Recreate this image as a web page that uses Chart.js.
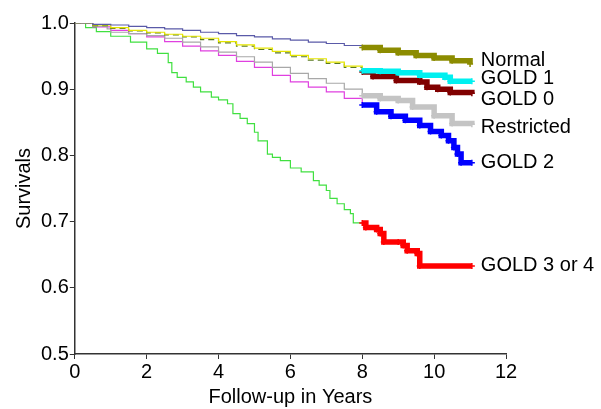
<!DOCTYPE html>
<html>
<head>
<meta charset="utf-8">
<script src="https://cdn.jsdelivr.net/npm/chart.js@4.4.1/dist/chart.umd.min.js"></script>
<style>
  html, body { margin: 0; padding: 0; background: #fff; }
  #wrap { width: 601px; height: 409px; }
</style>
</head>
<body>
<div id="wrap"><canvas id="km"></canvas></div>
<script>
// Kaplan-Meier curves (years, survival)
const normalT = [0, 0.5, 1, 1.5, 2, 2.5, 3, 3.5, 4, 4.5, 5, 5.5, 6, 6.5, 7, 7.5, 8, 8.5, 9, 9.5, 10, 10.5, 11];
const normalS = [1.0, 0.998, 0.997, 0.995, 0.993, 0.991, 0.989, 0.986, 0.984, 0.981, 0.979, 0.976, 0.974, 0.971, 0.969, 0.966, 0.963, 0.959, 0.955, 0.951, 0.947, 0.943, 0.938];

const gold1T = [0, 0.5, 1, 1.5, 2, 2.5, 3, 3.5, 4, 4.5, 5, 5.5, 6, 6.5, 7, 7.5, 8, 8.5, 9, 9.6, 10.3, 10.45, 11.05];
const gold1S = [1.0, 0.997, 0.993, 0.989, 0.986, 0.983, 0.980, 0.977, 0.972, 0.967, 0.962, 0.957, 0.951, 0.946, 0.941, 0.935, 0.928, 0.927, 0.925, 0.921, 0.918, 0.912, 0.912];

const gold0T = [0, 0.5, 1, 1.5, 2, 2.5, 3, 3.5, 4, 4.5, 5, 5.5, 6, 6.5, 7, 7.5, 8, 8.3, 8.95, 9.6, 9.8, 10.1, 10.45, 11.05];
const gold0S = [1.0, 0.996, 0.992, 0.988, 0.985, 0.982, 0.979, 0.975, 0.970, 0.965, 0.960, 0.955, 0.949, 0.944, 0.939, 0.933, 0.926, 0.919, 0.913, 0.911, 0.903, 0.900, 0.895, 0.894];

const restrT = [0, 0.5, 0.9, 1, 1.5, 2, 2.5, 3, 3.5, 4, 4.5, 5, 5.5, 6, 6.5, 7, 7.5, 8, 8.5, 9, 9.4, 10, 10.5, 11.05];
const restrS = [1.0, 0.995, 0.991, 0.986, 0.984, 0.981, 0.977, 0.971, 0.964, 0.956, 0.949, 0.941, 0.933, 0.924, 0.916, 0.909, 0.900, 0.890, 0.886, 0.883, 0.873, 0.860, 0.848, 0.847];

const gold2T = [0, 0.5, 1, 1.5, 2, 2.5, 3, 3.5, 4, 4.5, 5, 5.5, 6, 6.5, 7, 7.5, 8, 8.4, 8.8, 9.2, 9.6, 9.9, 10.2, 10.4, 10.55, 10.65, 10.75, 11.05];
const gold2S = [1.0, 0.994, 0.989, 0.984, 0.979, 0.972, 0.965, 0.958, 0.951, 0.942, 0.933, 0.921, 0.911, 0.903, 0.896, 0.886, 0.876, 0.866, 0.859, 0.853, 0.845, 0.836, 0.830, 0.822, 0.812, 0.802, 0.789, 0.789];

const gold34T = [0, 0.3, 0.6, 1, 1.55, 2.0, 2.3, 2.6, 2.7, 2.85, 3.1, 3.3, 3.5, 3.8, 4.0, 4.25, 4.4, 4.6, 4.8, 5.0, 5.1, 5.36, 5.5, 5.72, 6.0, 6.3, 6.64, 6.8, 7.0, 7.1, 7.3, 7.5, 7.67, 7.75, 8.0, 8.1, 8.4, 8.5, 8.6, 9.0, 9.14, 9.25, 9.53, 9.6, 11.05];
const gold34S = [1.0, 0.993, 0.987, 0.980, 0.971, 0.961, 0.954, 0.940, 0.925, 0.918, 0.911, 0.903, 0.896, 0.888, 0.884, 0.878, 0.863, 0.856, 0.848, 0.835, 0.822, 0.802, 0.797, 0.792, 0.781, 0.775, 0.762, 0.755, 0.747, 0.735, 0.727, 0.718, 0.712, 0.698, 0.698, 0.691, 0.688, 0.682, 0.669, 0.669, 0.664, 0.656, 0.652, 0.633, 0.633];

const groupNames = ['Normal', 'GOLD 1', 'GOLD 0', 'Restricted', 'GOLD 2', 'GOLD 3 or 4'];
const labelY = [0.944, 0.916, 0.885, 0.842, 0.789, 0.633];
const xTicks = [0, 2, 4, 6, 8, 10, 12];

const SPLIT = 8; // after 8 years the curves are drawn thick (dense censoring)

const groups = [
  { t: normalT, s: normalS, early: '#5a5aa8', late: '#8c8c00' },
  { t: gold1T, s: gold1S, early: '#e6e600', late: '#00f0f0' },
  { t: gold0T, s: gold0S, early: '#5a7a20', late: '#800000', dash: [6, 4] },
  { t: restrT, s: restrS, early: '#a8a8a8', late: '#c4c4c4' },
  { t: gold2T, s: gold2S, early: '#e040e0', late: '#0000ff' },
  { t: gold34T, s: gold34S, early: '#40e040', late: '#ff0000' }
];

function pts(t, s, keep) {
  const out = [];
  t.forEach((x, i) => { if (keep(x)) out.push({ x: x, y: s[i] }); });
  return out;
}

const datasets = [];
groups.forEach(g => {
  datasets.push({
    data: pts(g.t, g.s, x => x >= SPLIT),
    borderColor: g.late,
    backgroundColor: g.late,
    borderWidth: 5.5,
    stepped: true,
    pointStyle: 'cross',
    pointRadius: 3,
    pointBorderWidth: 1.5,
    pointBorderColor: g.late
  });
});
groups.forEach(g => {
  datasets.push({
    data: pts(g.t, g.s, x => x <= SPLIT),
    borderColor: g.early,
    borderWidth: 1.2,
    borderDash: g.dash || [],
    stepped: true,
    pointRadius: 0
  });
});

const FONT = '"Liberation Sans", Arial, sans-serif';

// right-hand group names, placed by the y scale
const endLabels = {
  id: 'endLabels',
  afterDraw(chart) {
    const { ctx, scales } = chart;
    ctx.save();
    ctx.font = '20px ' + FONT;
    ctx.fillStyle = '#000';
    ctx.textAlign = 'left';
    ctx.textBaseline = 'middle';
    groupNames.forEach((n, i) => {
      ctx.fillText(n, scales.x.getPixelForValue(11.3), scales.y.getPixelForValue(labelY[i]));
    });
    ctx.restore();
  }
};

const tickFont = { family: FONT, size: 20 };

new Chart(document.getElementById('km'), {
  type: 'line',
  data: { datasets: datasets },
  options: {
    responsive: true,
    maintainAspectRatio: false,
    animation: false,
    layout: { padding: { top: 23, right: 95, left: 12, bottom: 0 } },
    plugins: { legend: { display: false }, tooltip: { enabled: false } },
    scales: {
      x: {
        type: 'linear',
        min: 0, max: 12,
        afterBuildTicks: ax => { ax.ticks = xTicks.map(v => ({ value: v })); },
        ticks: { font: tickFont, color: '#000', padding: 1 },
        grid: { drawOnChartArea: false, tickLength: 5, color: '#333' },
        border: { color: '#333', width: 1.5 },
        title: { display: true, text: 'Follow-up in Years', font: tickFont, color: '#000', padding: { top: 0, bottom: 0 } }
      },
      y: {
        min: 0.5, max: 1.0,
        ticks: { stepSize: 0.1, font: tickFont, color: '#000', padding: 1, callback: v => v.toFixed(1) },
        grid: { drawOnChartArea: false, tickLength: 5, color: '#333' },
        border: { color: '#333', width: 1.5 },
        title: { display: true, text: 'Survivals', font: tickFont, color: '#000', padding: { top: 0, bottom: 4 } }
      }
    }
  },
  plugins: [endLabels]
});
</script>
</body>
</html>
